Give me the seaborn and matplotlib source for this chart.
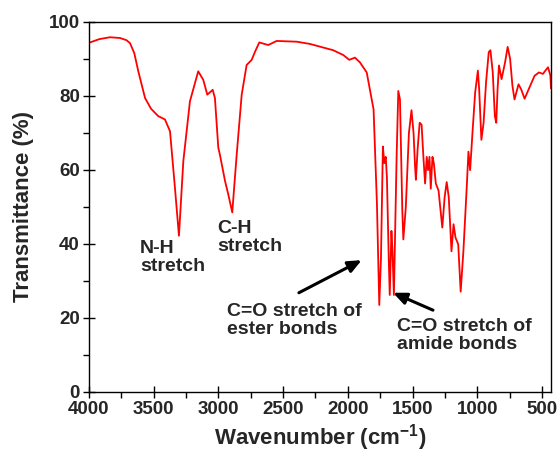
import matplotlib
matplotlib.use("Agg")
import matplotlib.pyplot as plt
from matplotlib.ticker import MultipleLocator
import seaborn as sns
import pandas as pd

wavenumber = [4000, 3920, 3838, 3760, 3710, 3683, 3650, 3619, 3567, 3521, 3465, 3413, 3374, 3336, 3305,
              3271, 3220, 3156, 3117, 3086, 3044, 3027, 3001, 2988, 2949, 2924, 2893,
              2859, 2820, 2782, 2743, 2717, 2684, 2615, 2550, 2395, 2293, 2113, 2035,
              1989, 1945, 1906, 1854, 1801, 1775, 1757, 1744, 1729, 1718, 1707, 1698,
              1684, 1676, 1663, 1655, 1644, 1623, 1610, 1597, 1579, 1571, 1552, 1528,
              1508, 1492, 1481, 1474, 1461, 1445, 1430, 1416, 1403, 1390, 1380, 1369,
              1359, 1346, 1335, 1320, 1299, 1270, 1252, 1236, 1220, 1199, 1183, 1168,
              1147, 1128, 1107, 1081, 1068, 1055, 1037, 1016, 995, 985, 968, 951,
              932, 911, 898, 880, 864, 853, 843, 832, 812, 785, 765, 746, 728, 712,
              681, 660, 634, 597, 557, 523, 493, 453, 435, 430]
transmittance = [94.3, 95.3, 95.8, 95.6, 95.0, 94.2, 91.5, 86.6, 79.4, 76.5, 74.5, 73.6, 70.4, 55.2, 42.2,
                 62.4, 78.5, 86.6, 84.3, 80.3, 81.6, 79.4, 66.0, 64.0, 57.0, 53.4, 48.5,
                 64.0, 80.3, 88.3, 89.7, 91.9, 94.4, 93.7, 94.8, 94.6, 94.0, 92.3, 91.0,
                 89.7, 90.3, 89.0, 86.3, 76.3, 50.8, 23.5, 36.0, 66.3, 61.8, 63.5, 58.0,
                 36.3, 26.2, 43.5, 38.0, 26.2, 63.5, 81.3, 79.0, 49.0, 41.2, 49.9, 69.9,
                 76.1, 69.9, 61.3, 57.3, 65.4, 72.7, 72.2, 63.5, 56.3, 63.5, 59.9, 63.5,
                 54.9, 63.5, 61.7, 56.3, 54.4, 44.4, 52.6, 56.7, 52.6, 38.0, 45.3, 41.7,
                 39.9, 27.1, 38.0, 55.4, 64.9, 59.9, 69.9, 80.9, 86.8, 81.7, 68.1, 72.7,
                 83.6, 91.8, 92.3, 86.3, 74.5, 72.7, 81.7, 88.2, 84.5, 89.0, 93.2, 90.0,
                 82.7, 79.0, 83.1, 81.7, 79.2, 82.2, 85.4, 86.3, 85.9, 87.7, 85.5, 82.0]

x_ticks = [4000, 3500, 3000, 2500, 2000, 1500, 1000, 500]
y_ticks = [0, 20, 40, 60, 80, 100]

sns.set_style("ticks")
plt.rcParams['font.family'] = ['Liberation Sans', 'DejaVu Sans']
plt.rcParams['font.weight'] = 'bold'
plt.rcParams['mathtext.fontset'] = 'custom'
plt.rcParams['mathtext.rm'] = 'Liberation Sans:bold'
plt.rcParams['mathtext.bf'] = 'Liberation Sans:bold'
plt.rcParams['mathtext.default'] = 'bf'

df = pd.DataFrame({"wn": wavenumber, "T": transmittance})

fig = plt.figure(figsize=(5.57, 4.59), dpi=100)
ax = fig.add_axes([89/557, 1 - 392/459, (551-89)/557, (392-21.7)/459])
sns.lineplot(data=df, x="wn", y="T", sort=False, color="#ff0000", linewidth=1.3, ax=ax)

ax.set_xlim(4000, 430)
ax.set_ylim(0, 100)
ax.set_xticks(x_ticks)
ax.set_yticks(y_ticks)
ax.xaxis.set_minor_locator(MultipleLocator(250))
ax.yaxis.set_minor_locator(MultipleLocator(10))
ax.tick_params(which='major', direction='inout', length=9, width=1, labelsize=13.5, color='black', pad=2)
ax.tick_params(which='minor', direction='out', length=4, width=1, color='black')
for lab in ax.get_xticklabels() + ax.get_yticklabels():
    lab.set_fontweight('bold')
for sp in ax.spines.values():
    sp.set_visible(True)
    sp.set_color('black')
    sp.set_linewidth(1.0)

ax.set_xlabel(r"Wavenumber (cm$^{-1}$)", fontsize=16, fontweight='bold', labelpad=3)
ax.set_ylabel("Transmittance (%)", fontsize=16, fontweight='bold', labelpad=11)

tkw = dict(fontsize=14, fontweight='bold', ha='left', va='top', linespacing=1.05)
ax.text(3606, 41.0, "N-H\nstretch", **tkw)
ax.text(3011, 46.4, "C-H\nstretch", **tkw)
ax.text(2934, 24.0, "C=O stretch of\nester bonds", **tkw)
ax.text(1620, 20.0, "C=O stretch of\namide bonds", **tkw)

akw = dict(arrowstyle="-|>,head_length=0.8,head_width=0.35", color='black', lw=2.2, shrinkA=0, shrinkB=0)
ax.annotate("", xy=(1893, 35.6), xytext=(2378, 26.8), arrowprops=akw)
ax.annotate("", xy=(1651, 26.8), xytext=(1342, 22.1), arrowprops=akw)

fig.savefig("out.png", dpi=100)
